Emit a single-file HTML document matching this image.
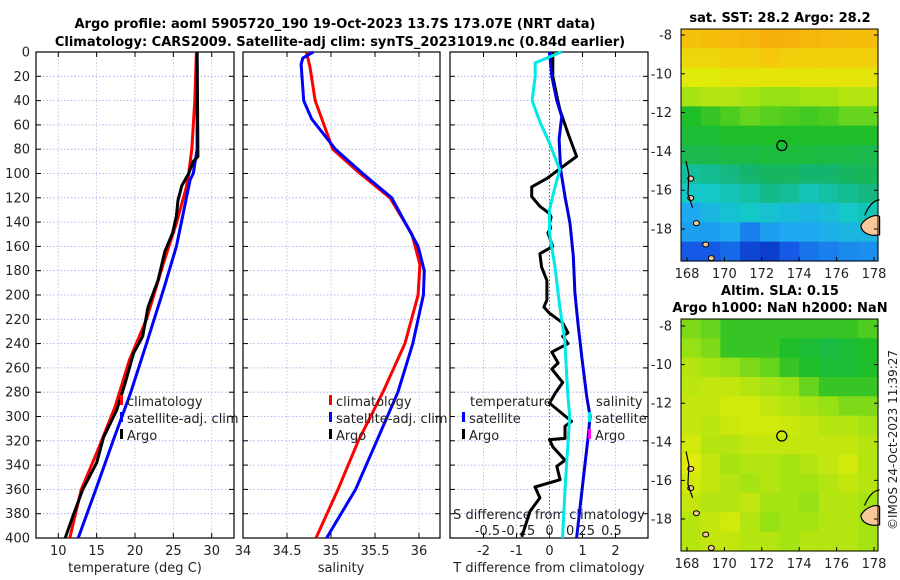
<!DOCTYPE html>
<html><head><meta charset="utf-8"><style>
html,body{margin:0;padding:0;background:#fff}
svg{display:block;font-family:"DejaVu Sans","Liberation Sans",sans-serif}
</style></head><body>
<svg id="fig" width="900" height="580" viewBox="0 0 900 580">
<text x="335" y="28" text-anchor="middle" font-weight="bold" font-size="13">Argo profile: aoml 5905720_190 19-Oct-2023 13.7S 173.07E (NRT data)</text>
<text x="340" y="46" text-anchor="middle" font-weight="bold" font-size="13">Climatology: CARS2009. Satellite-adj clim: synTS_20231019.nc (0.84d earlier)</text>
<text x="780" y="22" text-anchor="middle" font-weight="bold" font-size="13">sat. SST: 28.2 Argo: 28.2</text>
<text x="780" y="295" text-anchor="middle" font-weight="bold" font-size="13">Altim. SLA: 0.15</text>
<text x="780" y="312" text-anchor="middle" font-weight="bold" font-size="13">Argo h1000: NaN h2000: NaN</text>
<text transform="translate(897,440) rotate(-90)" text-anchor="middle" font-size="12" fill="#222">©IMOS 24-Oct-2023 11:39:27</text>
<g id="layer"></g>
</svg>
<script>
// ---- depth profile data ----
const depthTicks = [0,20,40,60,80,100,120,140,160,180,200,220,240,260,280,300,320,340,360,380,400];
const tTicks = [10,15,20,25,30];
const sTicks = [34,34.5,35,35.5,36];
const tdTicks = [-2,-1,0,1,2];
const sdTicks = [-0.5,-0.25,0,0.25,0.5];
const sdTickLabels = ["-0.5","-0.25","0","0.25","0.5"];

const climTDepth = [0,40,80,100,111,141,174,220,253,292,330,360,400];
const climT =      [28.0,27.8,27.4,27.0,26.7,25.4,23.7,21.5,19.3,17.4,15.0,13.0,11.5];
const satTDepth = [0,80,100,105,160,196,240,281,319,358,400];
const satT =      [28.1,28.1,27.6,27.2,25.4,23.7,21.5,19.4,17.2,15.0,12.6];
const argoTDepth = [0,40,86,90,100,110,122,135,149,164,188,210,234,248,273,295,317,338,360,382,400];
const argoT =      [28.1,28.15,28.2,27.6,27.0,26.1,25.6,25.4,24.9,23.9,23.0,21.7,21.0,19.8,18.7,17.6,15.9,15.0,13.2,11.9,10.9];

const climSDepth = [0,12,40,80,100,120,150,175,200,240,280,320,360,400];
const climS =      [34.72,34.76,34.82,35.02,35.33,35.67,35.92,36.01,35.99,35.84,35.59,35.31,35.08,34.83];
const satSDepth = [0,5,10,40,55,80,100,120,160,180,200,240,280,320,360,400];
const satS =      [34.80,34.68,34.66,34.69,34.78,35.05,35.36,35.69,35.99,36.06,36.05,35.93,35.76,35.52,35.28,34.95];

const dTsatDepth = [0,20,40,53,72,97,119,141,168,198,223,251,284,300,317,352,400];
const dTsat =      [0,0.07,0.22,0.37,0.29,0.34,0.47,0.62,0.72,0.77,0.86,0.98,1.13,1.23,1.17,1.02,0.82];
const dTargoDepth = [0,20,40,48,67,86,93,104,111,119,127,133,136,141,145,149,160,166,177,188,204,210,215,223,231,234,240,247,256,261,272,281,289,304,308,318,319,325,336,341,352,358,367,378,399];
const dTargo =      [0.1,0.1,0.25,0.32,0.56,0.82,0.47,-0.08,-0.54,-0.54,-0.29,0,0.05,0,0.03,-0.05,0.1,-0.29,-0.24,-0.08,-0.08,-0.17,0,0.4,0.56,0.4,0.56,0.07,0.26,0.07,0.4,0.17,0,0.67,0.47,0.47,0,0.1,0.47,0.22,0.32,-0.44,-0.29,-0.59,-0.84];
const dSsatDepth = [0,9,20,40,58,75,97,111,130,149,177,210,237,281,300,352,400];
const dSsat =      [0.097,-0.115,-0.115,-0.14,-0.075,0,0.083,0.044,0,0,0.044,0.083,0.123,0.147,0.163,0.13,0.105];

// ---- map data (rows north->south, cols west->east, normalized colour index) ----
const mapLonTicks = [168,170,172,174,176,178];
const mapLatTicks = [-8,-10,-12,-14,-16,-18];
const sstGrid = [
[0.92,0.93,0.94,0.95,0.97,0.96,0.95,0.94,0.93,0.93],
[0.86,0.86,0.88,0.88,0.9,0.88,0.88,0.88,0.88,0.88],
[0.8,0.8,0.82,0.82,0.82,0.82,0.82,0.82,0.82,0.82],
[0.72,0.74,0.74,0.72,0.7,0.7,0.72,0.72,0.74,0.74],
[0.6,0.62,0.64,0.66,0.65,0.64,0.63,0.64,0.66,0.66],
[0.58,0.58,0.6,0.6,0.6,0.6,0.6,0.6,0.6,0.6],
[0.55,0.55,0.56,0.56,0.57,0.57,0.57,0.56,0.56,0.55],
[0.45,0.46,0.48,0.5,0.52,0.52,0.5,0.5,0.52,0.53],
[0.4,0.4,0.42,0.44,0.47,0.45,0.42,0.44,0.46,0.48],
[0.3,0.34,0.38,0.4,0.38,0.36,0.34,0.36,0.4,0.42],
[0.28,0.28,0.3,0.22,0.28,0.3,0.3,0.32,0.34,0.34],
[0.15,0.15,0.18,0.1,0.08,0.15,0.2,0.22,0.24,0.25]];
const slaGrid = [
[0.68,0.66,0.62,0.62,0.62,0.62,0.62,0.62,0.62,0.64],
[0.7,0.68,0.62,0.62,0.62,0.6,0.58,0.56,0.58,0.6],
[0.74,0.72,0.7,0.68,0.66,0.62,0.6,0.58,0.58,0.6],
[0.75,0.76,0.76,0.74,0.72,0.7,0.66,0.62,0.62,0.62],
[0.76,0.76,0.78,0.78,0.76,0.74,0.72,0.7,0.68,0.68],
[0.76,0.75,0.77,0.78,0.78,0.77,0.76,0.74,0.74,0.72],
[0.78,0.74,0.74,0.76,0.76,0.76,0.76,0.76,0.76,0.74],
[0.8,0.76,0.72,0.74,0.74,0.72,0.74,0.76,0.78,0.74],
[0.78,0.76,0.74,0.72,0.74,0.72,0.72,0.74,0.76,0.74],
[0.76,0.74,0.74,0.76,0.72,0.72,0.7,0.74,0.74,0.72],
[0.74,0.76,0.78,0.74,0.7,0.72,0.72,0.74,0.74,0.72],
[0.74,0.76,0.76,0.74,0.74,0.72,0.74,0.74,0.74,0.72]];
const argoLon = 173.07, argoLat = -13.7;

const NS="http://www.w3.org/2000/svg";
const layer=document.getElementById('layer');
function mk(tag,attrs,parent){const e=document.createElementNS(NS,tag);for(const k in attrs)e.setAttribute(k,attrs[k]);(parent||layer).appendChild(e);return e;}
function txt(x,y,s,attrs,parent){const e=mk('text',Object.assign({x:x,y:y,'font-size':12,fill:'#222'},attrs||{}),parent);e.textContent=s;return e;}

const yTop=52, yBot=538;
const yD = d => yTop + d*(yBot-yTop)/400;
const panels=[{x0:36,x1:234},{x0:243,x1:440},{x0:450,x1:648}];
const xT = t => 58.3 + (t-10)*7.67;
const xS = s => 243 + (s-34)*88;
const xTd = t => 549.5 + t*33;
const xSd = s => 549.5 + s*124;

function line(xs, ds, fx, color, name, w){
  const pts=xs.map((v,i)=>fx(v).toFixed(1)+','+yD(ds[i]).toFixed(1)).join(' ');
  const p=mk('polyline',{points:pts,fill:'none',stroke:color,'stroke-width':w||3,'stroke-linejoin':'round'});
  
  
}

panels.forEach((p,pi)=>{
  const g=mk('g',{});
  
  
  depthTicks.forEach(d=>{
    const l=mk('line',{x1:p.x0,x2:p.x1,y1:yD(d),y2:yD(d),stroke:'#9aa6e6','stroke-width':0.8,'stroke-dasharray':'1.5,2'},g);
    
    
    mk('line',{x1:p.x0,x2:p.x0+5,y1:yD(d),y2:yD(d),stroke:'#000'},g);
    mk('line',{x1:p.x1-5,x2:p.x1,y1:yD(d),y2:yD(d),stroke:'#000'},g);
  });
  const xt = pi===0? tTicks.map(xT) : pi===1? sTicks.map(xS) : tdTicks.map(xTd);
  xt.forEach(x=>{
    const l=mk('line',{x1:x,x2:x,y1:yTop,y2:yBot,stroke:'#b8bce8','stroke-width':0.8,'stroke-dasharray':'1.5,2'},g);
    
    
    mk('line',{x1:x,x2:x,y1:yBot,y2:yBot-5,stroke:'#000'},g);
    mk('line',{x1:x,x2:x,y1:yTop,y2:yTop+5,stroke:'#000'},g);
  });
  const r=mk('rect',{x:p.x0,y:yTop,width:p.x1-p.x0,height:yBot-yTop,fill:'none',stroke:'#000','stroke-width':1.2},g);
  
  
});

depthTicks.forEach(d=>{
  const t=txt(30,yD(d)+4.5,String(d),{'text-anchor':'end','font-size':13});
  
  
});
tTicks.forEach(v=>{const t=txt(xT(v),555,String(v),{'text-anchor':'middle','font-size':13});});
sTicks.forEach(v=>{const t=txt(xS(v),555,String(v),{'text-anchor':'middle','font-size':13});});
tdTicks.forEach(v=>{const t=txt(xTd(v),555,String(v),{'text-anchor':'middle','font-size':13});});
sdTicks.forEach((v,i)=>{const t=txt(xSd(v),535,sdTickLabels[i],{'text-anchor':'middle','font-size':13});});
let at;
at=txt(135,572,'temperature (deg C)',{'text-anchor':'middle','font-size':13});
at=txt(341,572,'salinity',{'text-anchor':'middle','font-size':13});
at=txt(549,572,'T difference from climatology',{'text-anchor':'middle','font-size':13});
at=txt(549,519,'S difference from climatology',{'text-anchor':'middle','font-size':13});

const zl=mk('line',{x1:xTd(0),x2:xTd(0),y1:yTop,y2:yBot,stroke:'#556b2f','stroke-width':1,'stroke-dasharray':'1.5,2'});



line(climT,climTDepth,xT,'#ff0000','temp-climatology-line');
line(satT,satTDepth,xT,'#0000ff','temp-satellite-line');
line(argoT,argoTDepth,xT,'#000','temp-argo-line');
line(climS,climSDepth,xS,'#ff0000','sal-climatology-line');
line(satS,satSDepth,xS,'#0000ff','sal-satellite-line');
line(dTargo,dTargoDepth,xTd,'#000','tdiff-argo-line');
line(dTsat,dTsatDepth,xTd,'#0000dd','tdiff-satellite-line');
line(dSsat,dSsatDepth,xSd,'#00e8e8','sdiff-satellite-line');

function legend(x,y,color,label,name){
  const g=mk('g',{});
  
  
  mk('rect',{x:x,y:y-11,width:3,height:10,fill:color},g);
  txt(x+7,y,label,{'font-size':13},g);
}
legend(120,406,'#ff0000','climatology','legend-climatology');
legend(120,423,'#0000ff','satellite-adj. clim','legend-satellite-t');
legend(120,440,'#000','Argo','legend-argo-t');
legend(329,406,'#ff0000','climatology','legend-climatology-s');
legend(329,423,'#0000ff','satellite-adj. clim','legend-satellite-s');
legend(329,440,'#000','Argo','legend-argo-s');
at=txt(470,406,'temperature',{'font-size':13});
legend(462,423,'#0000ff','satellite','legend-tdiff-satellite');
legend(462,440,'#000','Argo','legend-tdiff-argo');
at=txt(596,406,'salinity',{'font-size':13});
legend(588,423,'#00e8e8','satellite','legend-sdiff-satellite');
legend(588,440,'#ff00ff','Argo','legend-sdiff-argo');

const cmapStops=[[0,[0,30,170]],[0.15,[20,90,230]],[0.3,[30,170,240]],[0.4,[20,200,200]],[0.5,[20,180,110]],[0.6,[30,190,40]],[0.7,[150,225,20]],[0.8,[225,235,10]],[0.9,[245,200,10]],[1,[245,165,10]]];
function cmap(v){
  for(let i=1;i<cmapStops.length;i++){
    if(v<=cmapStops[i][0]){const a=cmapStops[i-1],b=cmapStops[i];const f=(v-a[0])/(b[0]-a[0]);
      return 'rgb('+a[1].map((c,k)=>Math.round(c+(b[1][k]-c)*f)).join(',')+')';}
  }
  return 'rgb(245,165,10)';
}
function drawMap(grid,top,latTop,pxPerLat,name){
  const x0=681,x1=878,bottom=top+232;
  const xL = lon => 687 + (lon-168)*18.7;
  const yL = lat => latTop + (-8-lat)*pxPerLat;
  const g=mk('g',{});
  
  
  const rows=grid.length, cols=grid[0].length;
  const cw=(x1-x0)/cols, ch=(bottom-top)/rows;
  grid.forEach((row,r)=>row.forEach((v,c)=>{
    const cell=mk('rect',{x:x0+c*cw,y:top+r*ch,width:cw+0.6,height:ch+0.6,fill:cmap(v)},g);
    
    
  }));
  const fiji=mk('path',{d:`M${xL(177.3)},${yL(-17.8)} C${xL(177.6)},${yL(-17.3)} ${xL(178.3)},${yL(-17.2)} ${xL(178.3)},${yL(-17.4)} L${xL(178.3)},${yL(-18.3)} C${xL(177.8)},${yL(-18.4)} ${xL(177.3)},${yL(-18.2)} ${xL(177.3)},${yL(-17.8)}Z`,fill:'#f9c898',stroke:'#000','stroke-width':1.2},g);
  
  
  mk('path',{d:`M${xL(177.5)},${yL(-17.3)} C${xL(177.7)},${yL(-16.8)} ${xL(178)},${yL(-16.5)} ${xL(178.3)},${yL(-16.5)}`,fill:'none',stroke:'#000','stroke-width':1.2},g);
  [[168.5,-17.7],[168.2,-15.4],[168.2,-16.4],[169.0,-18.8],[169.3,-19.5]].forEach(([lo,la])=>{
    const e=mk('ellipse',{cx:xL(lo),cy:yL(la),rx:3,ry:2.5,fill:'#f9c898',stroke:'#000','stroke-width':1},g);
    
    
  });
  mk('path',{d:`M${xL(167.95)},${yL(-14.5)} L${xL(168.1)},${yL(-15.2)} L${xL(168.05)},${yL(-16.2)} L${xL(168.3)},${yL(-16.9)}`,fill:'none',stroke:'#000','stroke-width':1.2},g);
  const c=mk('circle',{cx:xL(argoLon),cy:yL(argoLat),r:5,fill:'none',stroke:'#000','stroke-width':1.3},g);
  
  
  const fr=mk('rect',{x:x0,y:top,width:x1-x0,height:bottom-top,fill:'none',stroke:'#000','stroke-width':1},g);
  
  
  mapLatTicks.forEach(la=>{
    mk('line',{x1:x0,x2:x0+4,y1:yL(la),y2:yL(la),stroke:'#000'},g);
    mk('line',{x1:x1-4,x2:x1,y1:yL(la),y2:yL(la),stroke:'#000'},g);
    const t=txt(672,yL(la)+4.5,String(la),{'text-anchor':'end','font-size':13},g);
    
    
  });
  mapLonTicks.forEach(lo=>{
    mk('line',{x1:xL(lo),x2:xL(lo),y1:bottom,y2:bottom-4,stroke:'#000'},g);
    const t=txt(xL(lo),bottom+17,String(lo),{'text-anchor':'middle','font-size':13},g);
    
    
  });
}
drawMap(sstGrid,29,35,19.4,'sst-map');
drawMap(slaGrid,319,326,19.3,'sla-map');
</script>
</body></html>
